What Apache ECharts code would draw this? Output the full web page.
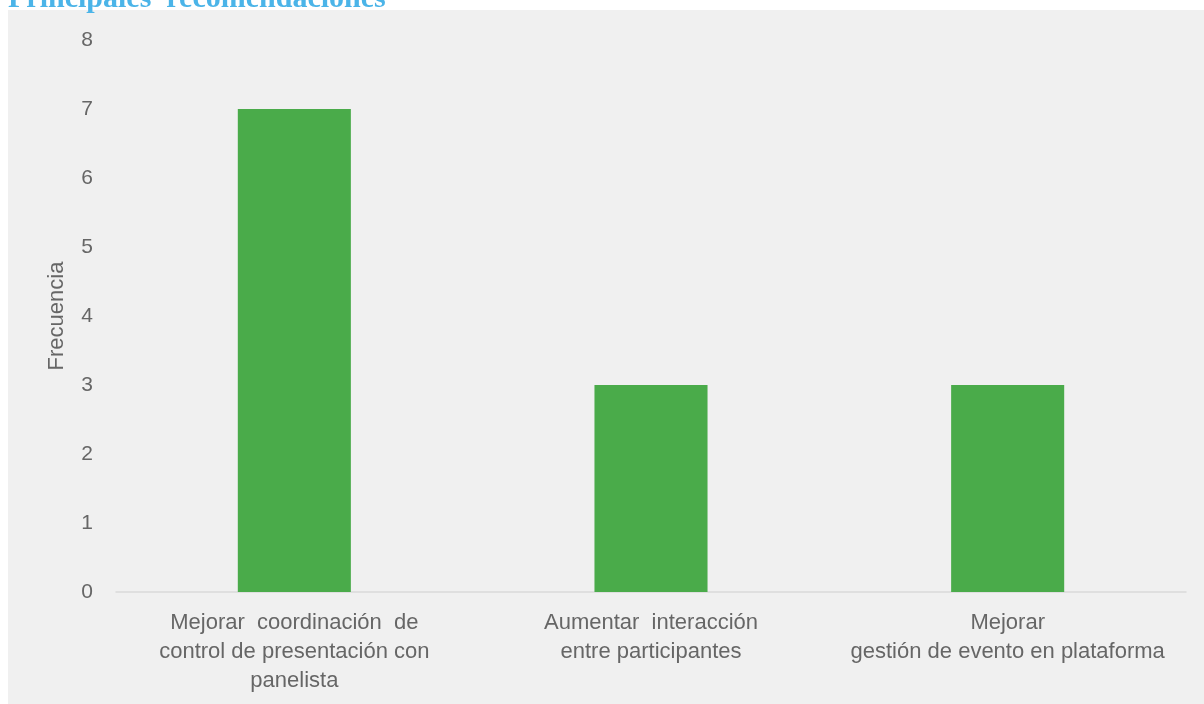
<!DOCTYPE html>
<html>
<head>
<meta charset="utf-8">
<script src="https://cdn.jsdelivr.net/npm/echarts@6/dist/echarts.min.js"></script>
<style>
  html, body { margin: 0; padding: 0; background: #ffffff; }
  #chart { width: 1204px; height: 704px; }
</style>
</head>
<body>
<div id="chart"></div>
<script>
// Recommendation categories and how often each one came up
const categories = [
  'Mejorar  coordinación  de\ncontrol de presentación con\npanelista',
  'Aumentar  interacción\nentre participantes',
  'Mejorar\ngestión de evento en plataforma'
];
const frequencies = [7, 3, 3];
const yTicks = [0, 1, 2, 3, 4, 5, 6, 7, 8];

const chart = echarts.init(document.getElementById('chart'), null, { renderer: 'canvas' });

const labelColor = '#666666';
const fontFamily = '"Liberation Sans", Arial, sans-serif';

chart.setOption({
  backgroundColor: '#ffffff',
  animation: false,
  graphic: [
    {
      type: 'rect',
      left: 8, top: 10,
      shape: { width: 1196, height: 694 },
      style: { fill: '#f0f0f0' },
      z: -10
    },
    {
      type: 'text',
      x: 8, y: -1,
      style: {
        text: 'Principales  recomendaciones',
        fill: '#4bb4e8',
        verticalAlign: 'middle',
        font: 'bold 30px "Liberation Serif", "Times New Roman", serif'
      }
    }
  ],
  grid: { left: 116, right: 18, top: 40, bottom: 112, containLabel: false },
  xAxis: {
    type: 'category',
    data: categories,
    axisLine: { show: true, lineStyle: { color: '#d9d9d9', width: 1.5 } },
    axisTick: { show: false },
    axisLabel: {
      color: labelColor,
      fontFamily: fontFamily,
      fontSize: 22,
      lineHeight: 29,
      margin: 16,
      interval: 0
    }
  },
  yAxis: {
    type: 'value',
    min: yTicks[0],
    max: yTicks[yTicks.length - 1],
    interval: 1,
    name: 'Frecuencia',
    nameLocation: 'middle',
    nameGap: 48,
    nameTextStyle: { color: labelColor, fontFamily: fontFamily, fontSize: 22 },
    axisLine: { show: false },
    axisTick: { show: false },
    splitLine: { show: false },
    axisLabel: {
      color: labelColor,
      fontFamily: fontFamily,
      fontSize: 21,
      margin: 23
    }
  },
  series: [{
    type: 'bar',
    data: frequencies,
    barWidth: '31.7%',
    itemStyle: { color: '#4aab4a' }
  }]
});
</script>
</body>
</html>
